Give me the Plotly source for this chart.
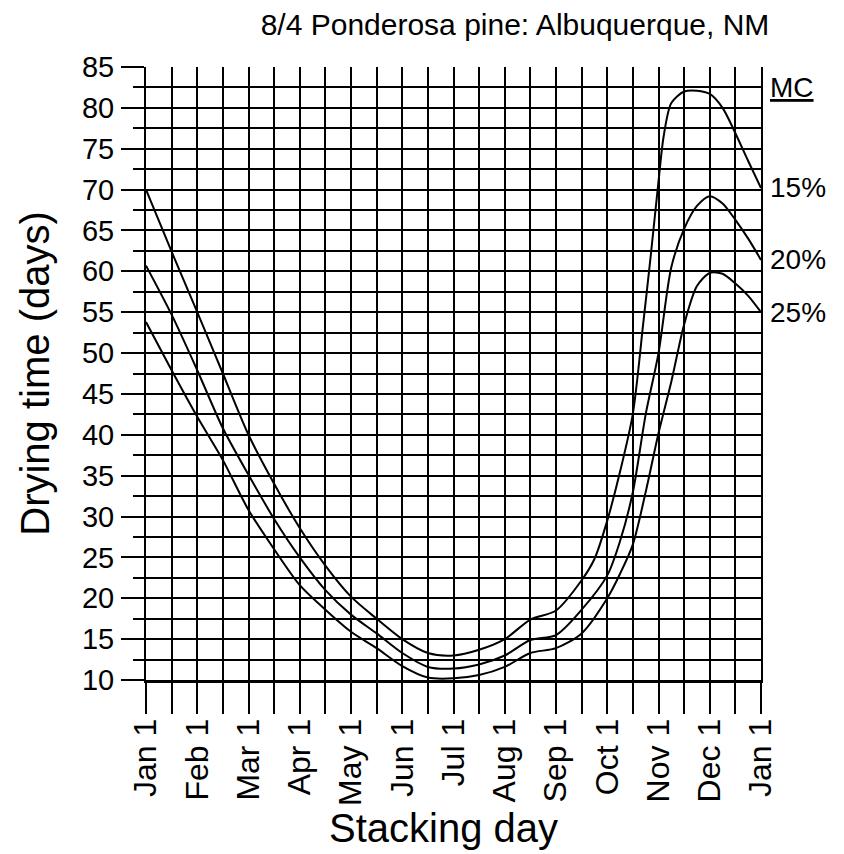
import plotly.graph_objects as go

# ---- data ----
month_pos = [0, 1, 2, 3, 4, 5, 6, 7, 8, 9, 10, 11, 12]
month_labels = ["Jan 1", "Feb 1", "Mar 1", "Apr 1", "May 1", "Jun 1", "Jul 1",
                "Aug 1", "Sep 1", "Oct 1", "Nov 1", "Dec 1", "Jan 1"]

mc15_x = [0, 0.5, 1, 1.5, 2, 2.5, 3, 3.5, 4, 4.5, 5, 5.5, 6, 6.5, 7, 7.5, 8, 8.5,
          8.75, 9, 9.25, 9.5, 9.7, 9.85, 10, 10.1, 10.25, 10.5, 10.75, 11, 11.25,
          11.5, 11.75, 12]
mc15_y = [70, 62.4, 55, 47.5, 40, 34, 28.6, 24, 20.2, 17.5, 15, 13.3, 13.0, 13.7,
          15, 17.4, 18.5, 22.2, 24.8, 29.5, 35.5, 42.6, 53.5, 62, 71, 76.5, 80.6,
          82, 82.1, 81.7, 80, 76.9, 73.5, 70.2]

mc20_x = [0, 0.5, 1, 1.5, 2, 2.5, 3, 3.5, 4, 4.5, 5, 5.5, 6, 6.5, 7, 7.5, 8, 8.5,
          9, 9.25, 9.5, 9.75, 10, 10.25, 10.5, 10.75, 11, 11.25, 11.5, 11.75, 12]
mc20_y = [60.7, 54.7, 47.9, 40.8, 35.1, 29.7, 25, 21, 18, 15.7, 13.3, 11.6, 11.4,
          11.9, 13, 14.9, 15.5, 18.6, 22.8, 27, 33, 42.5, 50, 60.5, 65.2, 68,
          69.2, 68.3, 66.3, 64, 61.4]

mc25_x = [0, 0.5, 1, 1.5, 2, 2.5, 3, 3.5, 4, 4.5, 5, 5.5, 6, 6.5, 7, 7.5, 8, 8.5,
          9, 9.25, 9.5, 9.75, 10, 10.25, 10.5, 10.75, 11, 11.25, 11.5, 11.75, 12]
mc25_y = [53.8, 47.9, 42.2, 36.9, 30.8, 26, 21.6, 18.6, 15.9, 13.9, 11.7, 10.3,
          10.2, 10.6, 11.6, 13.3, 13.9, 15.7, 20, 23, 26.6, 33, 40.2, 46.5, 53.5,
          58.2, 59.8, 59.7, 58.5, 57, 55]

series = [("15%", mc15_x, mc15_y), ("20%", mc20_x, mc20_y), ("25%", mc25_x, mc25_y)]

FONT = "Liberation Sans, Arial, sans-serif"

fig = go.Figure()
for name, xs, ys in series:
    fig.add_trace(go.Scatter(
        x=xs, y=ys, mode="lines", name=name,
        line=dict(color="black", width=2, shape="spline", smoothing=0.8),
        showlegend=False, hoverinfo="skip"))

annotations = [dict(text="MC", xref="paper", yref="y", x=1.012, y=82.5,
                    xanchor="left", yanchor="middle", showarrow=False,
                    font=dict(family=FONT, size=28, color="black", lineposition="under"))]
for name, xs, ys in series:
    annotations.append(dict(text=name, xref="paper", yref="y", x=1.012, y=ys[-1],
                            xanchor="left", yanchor="middle", showarrow=False,
                            font=dict(family=FONT, size=28, color="black")))
# x-axis title placed as an annotation below the rotated tick labels
annotations.append(dict(text="Stacking day", xref="paper", yref="paper",
                        x=0.483, y=-0.2414, xanchor="center", yanchor="middle",
                        showarrow=False,
                        font=dict(family=FONT, size=40, color="black")))

GRID = 2.2

# the page body adds an 8px offset, so the figure is sized to the visible area
fig.update_layout(
    width=836, height=846,
    margin=dict(l=138, r=83, t=59, b=174, autoexpand=False),
    paper_bgcolor="white", plot_bgcolor="white",
    font=dict(family=FONT, color="black"),
    title=dict(text="8/4 Ponderosa pine: Albuquerque, NM", xref="paper", x=0.6,
               xanchor="center", yref="container", y=1 - 16 / 846, yanchor="middle",
               font=dict(family=FONT, size=30, color="black")),
    annotations=annotations,
    xaxis=dict(
        range=[0, 12], tickmode="array", tickvals=month_pos, ticktext=month_labels,
        tickangle=-90, ticks="outside", ticklen=31, tickwidth=2, tickcolor="black",
        ticklabelstandoff=-8, automargin=False,
        tickfont=dict(family=FONT, size=32, color="black"),
        showgrid=True, gridcolor="black", gridwidth=GRID,
        minor=dict(tick0=0, dtick=0.5, ticks="outside", ticklen=31, tickwidth=2,
                   tickcolor="black", showgrid=True, gridcolor="black", gridwidth=GRID),
        showline=True, linecolor="black", linewidth=3, zeroline=False,
    ),
    yaxis=dict(
        range=[10, 85], tick0=10, dtick=5, ticks="outside", ticklen=23, tickwidth=2,
        tickcolor="black", ticklabelstandoff=1, automargin=False,
        tickfont=dict(family=FONT, size=29, color="black"),
        showgrid=True, gridcolor="black", gridwidth=GRID,
        minor=dict(tick0=10, dtick=2.5, ticks="outside", ticklen=11, tickwidth=2,
                   tickcolor="black", showgrid=True, gridcolor="black", gridwidth=GRID),
        showline=True, linecolor="black", linewidth=2, mirror=True, zeroline=False,
        title=dict(text="Drying time (days)", standoff=20,
                   font=dict(family=FONT, size=40, color="black")),
    ),
)

fig.write_html("out.html")
